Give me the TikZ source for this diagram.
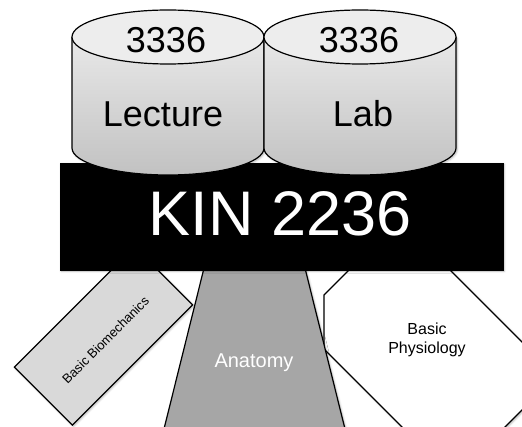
\documentclass[tikz,border=0pt]{standalone}
\usepackage{fontspec}
\setmainfont{Liberation Sans}
\usetikzlibrary{shadows.blur}
\begin{document}
\begin{tikzpicture}[x=1pt,y=-1pt,
  edge/.style={draw=black,line width=1.2pt,line join=miter},
  soft/.style={blur shadow={shadow xshift=1.2pt,shadow yshift=-1.2pt,shadow blur radius=2pt,shadow opacity=30}},
  cylside/.style={top color=black!9,bottom color=black!24},
  big/.style={font=\fontsize{36}{40}\selectfont}]
\useasboundingbox (0,0) rectangle (522,427);
\clip (0,0) rectangle (522,427);
% topics hanging below the course
\draw[edge,soft,fill=black!15,rotate around={45:(103.5,336)}] (18.5,295) rectangle (188.5,377);
\draw[edge,soft,fill=white] (324,295) -- (324,349) -- (426.5,451.5) -- (480.5,451.5) -- (529,403)
  -- (529,349) -- (426.5,246.5) -- (372.5,246.5) -- cycle;
\draw[edge,soft,fill=black!35] (211,240) -- (298,240) -- (357.7,480) -- (151.3,480) -- cycle;
\node[rotate=45,font=\fontsize{13}{15}\selectfont] (biomech) at (105.5,340) {Basic Biomechanics};
\node[align=center,font=\fontsize{16}{19}\selectfont] (physio) at (427,340) {Basic\\Physiology};
\node[text=white,font=\fontsize{20}{24}\selectfont,anchor=base] (anat) at (254,367.5) {Anatomy};
% the course itself
\draw[fill=black,soft] (60,163) rectangle (503,270);
\node[text=white,font=\fontsize{63}{70}\selectfont] (kin) at (280,213.5) {KIN 2236};
% lecture and lab on top
\foreach \cx/\nm/\lbl/\tx/\nx in {168/lec/Lecture/163/166,360/lab/Lab/363/359}{
  \path[cylside,soft] (\cx-96,37) -- (\cx-96,148)
    arc[start angle=180,end angle=360,x radius=96pt,y radius=27pt] -- (\cx+96,37) -- cycle;
  \draw[edge] (\cx-96,37) -- (\cx-96,148)
    arc[start angle=180,end angle=360,x radius=96pt,y radius=27pt] -- (\cx+96,37);
  \draw[edge,fill=black!7] (\cx,37) ellipse[x radius=96pt,y radius=27pt];
  \node[big] (\nm-num) at (\nx,40) {3336};
  \node[big] (\nm-name) at (\tx,114) {\lbl};
}
\end{tikzpicture}
\end{document}
